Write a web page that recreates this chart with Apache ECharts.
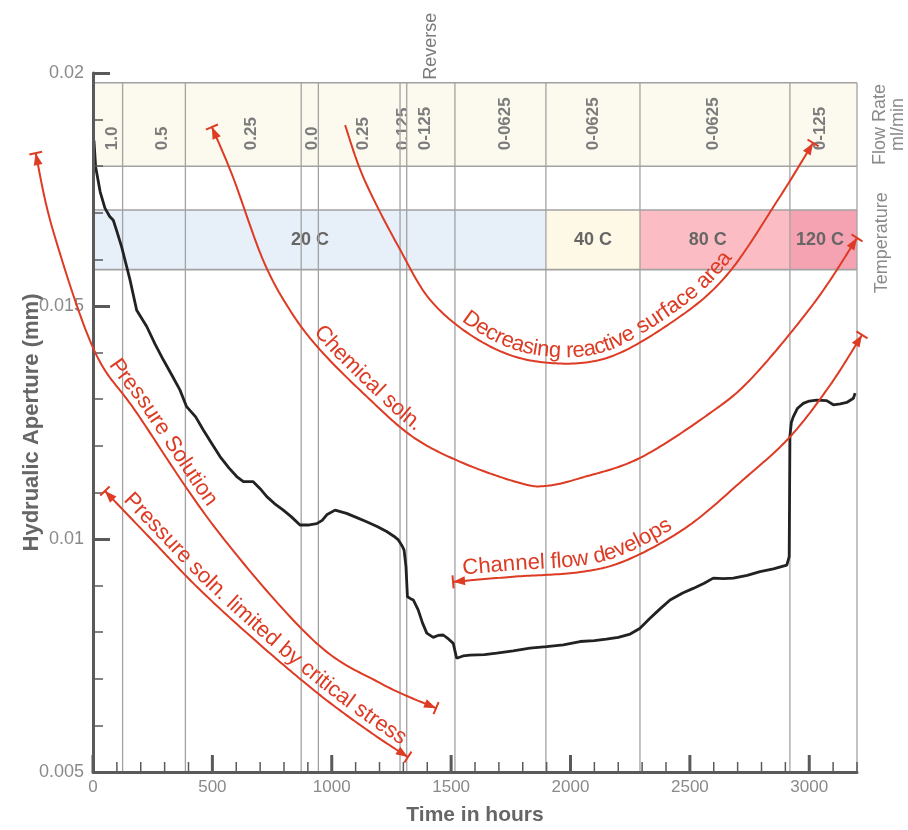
<!DOCTYPE html>
<html>
<head>
<meta charset="utf-8">
<title>Hydraulic aperture vs time</title>
<script src="https://cdn.jsdelivr.net/npm/echarts@6/dist/echarts.min.js"></script>
<style>
  html, body { margin: 0; padding: 0; background: #ffffff; }
  #chart { width: 908px; height: 830px; }
</style>
</head>
<body>
<div id="chart"></div>
<script>
// ---- measured hydraulic aperture record ----
const hours = [4, 11, 30, 50, 70, 85, 100, 120, 155, 183, 225, 260, 295, 330, 364, 392, 430, 462, 500, 532,
  570, 602, 630, 671, 700, 728, 760, 797, 830, 867, 900, 937, 960, 979, 1014, 1062, 1100, 1146, 1190, 1230,
  1260, 1279, 1295, 1303, 1311, 1317, 1330, 1342, 1362, 1380, 1398, 1425, 1445, 1467, 1490, 1509, 1516, 1523,
  1550, 1579, 1640, 1691, 1760, 1830, 1900, 1970, 2040, 2100, 2150, 2200, 2250, 2290, 2333, 2375, 2417, 2470,
  2514, 2560, 2598, 2640, 2682, 2740, 2794, 2850, 2906, 2916, 2919, 2925, 2933, 2950, 2975, 3000, 3031, 3073,
  3101, 3130, 3157, 3185, 3192];
const aperture = [0.01855, 0.01799, 0.01745, 0.01710, 0.01692, 0.01684, 0.01660, 0.01627, 0.01556, 0.01491,
  0.01456, 0.01418, 0.01384, 0.01352, 0.01320, 0.01284, 0.01262, 0.01234, 0.01203, 0.01177,
  0.01152, 0.01134, 0.01123, 0.01123, 0.01108, 0.01091, 0.01076, 0.01062, 0.01048, 0.01030,
  0.01030, 0.01033, 0.01040, 0.01052, 0.01062, 0.01055, 0.01047, 0.01037, 0.01027, 0.01016,
  0.01006, 0.00998, 0.00985, 0.00976, 0.00940, 0.00876, 0.00872, 0.00869, 0.00848, 0.00820,
  0.00798, 0.00789, 0.00793, 0.00794, 0.00785, 0.00776, 0.00760, 0.00744,
  0.00749, 0.00751, 0.00752, 0.00755, 0.00760, 0.00766, 0.00769, 0.00773, 0.00780, 0.00782,
  0.00785, 0.00789, 0.00796, 0.00808, 0.00830, 0.00850, 0.00869, 0.00884,
  0.00894, 0.00905, 0.00916, 0.00915, 0.00916, 0.00922, 0.00930, 0.00936, 0.00944, 0.00962,
  0.01220, 0.01250, 0.01262, 0.01280, 0.01291, 0.01296, 0.01298, 0.01297,
  0.01288, 0.01290, 0.01293, 0.01302, 0.01313];

// ---- flow-rate stages (hours) ----
const stageEdges = [0, 124, 387, 872, 944, 1286, 1314, 1516, 1897, 2291, 2919, 3200];
const flowRates = ['1.0', '0.5', '0.25', '0.0', '0.25', '0.125', '0-125', '0-0625', '0-0625', '0-0625', '0-125'];
const flowLabelHours = [80, 289, 665, 917, 1131, 1298, 1391, 1726, 2094, 2597, 3045];
const stageNotes = ['', '', '', '', '', '', 'Reverse', '', '', '', ''];

// ---- temperature stages (hours) ----
const tempEdges = [0, 1897, 2291, 2919, 3200];
const tempLabels = ['20 C', '40 C', '80 C', '120 C'];
const tempLabelHours = [909, 2094, 2575, 3045];

// ---- axis ticks ----
const xMajorTicks = [0, 500, 1000, 1500, 2000, 2500, 3000];
const xMinorTicks = [];
for (let h = 100; h <= 3200; h += 100) if (h % 500 !== 0) xMinorTicks.push(h);

// ---- interpretive arrows: [hours, aperture] ----
const pressureSolutionPath = [[-240, 0.01828], [-168, 0.01663], [4, 0.01406], [184, 0.0127], [519, 0.01019],
  [922, 0.00783], [1202, 0.00691], [1437, 0.00637]];
const criticalStressPath = [[50, 0.01103], [239, 0.01002], [448, 0.00891], [700, 0.00773], [951, 0.00665],
  [1160, 0.00586], [1319, 0.00532]];
const chemicalPath = [[498, 0.01884], [586, 0.01777], [712, 0.01599], [825, 0.01491], [951, 0.01406],
  [1148, 0.01305], [1340, 0.01219], [1550, 0.01163], [1789, 0.0112], [1900, 0.01114], [2050, 0.01132],
  [2291, 0.01174], [2584, 0.0127], [2764, 0.01348], [3024, 0.01509], [3200, 0.01646]];
const surfaceAreaPath = [[1056, 0.01888], [1135, 0.01773], [1282, 0.01625], [1424, 0.01506], [1642, 0.01419],
  [1872, 0.0138], [2149, 0.01388], [2438, 0.0147], [2656, 0.01567], [2869, 0.01728], [3016, 0.0185]];
const channelPath = [[1508, 0.00908], [1759, 0.00919], [2040, 0.00929], [2237, 0.00955], [2488, 0.01026],
  [2723, 0.01127], [2919, 0.01219], [3087, 0.0133], [3221, 0.01438]];

const annotations = [
  { label: 'Pressure Solution', path: pressureSolutionPath, textFrom: 40, arrows: [true, true] },
  { label: 'Pressure soln. limited by critical stress', path: criticalStressPath, textFrom: 100, arrows: [true, true] },
  { label: 'Chemical soln.', path: chemicalPath, textFrom: 900, arrows: [true, true] },
  { label: 'Decreasing reactive surface area', path: surfaceAreaPath, textFrom: 1520, arrows: [false, true] },
  { label: 'Channel flow develops', path: channelPath, textFrom: 1552, arrows: [true, true] }
];

// ---- layout constants (aperture units) ----
const Y_MIN = 0.005, Y_MAX = 0.02, X_MAX = 3200;
const FLOW_TOP = 0.01979, FLOW_BOTTOM = 0.018;
const TEMP_TOP = 0.01706, TEMP_BOTTOM = 0.01578;

const FONT = '"Liberation Sans", Arial, Helvetica, sans-serif';
const RED = '#dd3b24';
const AXIS = '#5a5a5a';
const GRIDLINE = '#a2a2a2';
const tempColors = ['#e7eff9', '#fdf9e6', '#fbbdc3', '#f5a2b3'];

const chart = echarts.init(document.getElementById('chart'), null, { renderer: 'canvas' });

function renderFlowStage(params, api) {
  const i = params.dataIndex;
  const a = api.coord([api.value(0), FLOW_TOP]);
  const b = api.coord([api.value(1), FLOW_BOTTOM]);
  const lp = api.coord([api.value(2), FLOW_BOTTOM]);
  const children = [
    { type: 'rect', shape: { x: a[0], y: a[1], width: b[0] - a[0], height: b[1] - a[1] },
      style: { fill: '#fcf9ef' } },
    { type: 'text', x: lp[0], y: lp[1] - 16, rotation: Math.PI / 2,
      style: { text: flowRates[i], align: 'left', verticalAlign: 'middle', fill: '#7c7c7c',
        fontSize: 17, fontWeight: 'bold', fontFamily: FONT } }
  ];
  if (stageNotes[i]) {
    children.push({ type: 'text', x: (a[0] + b[0]) / 2, y: a[1] - 3, rotation: Math.PI / 2,
      style: { text: stageNotes[i], align: 'left', verticalAlign: 'middle', fill: '#7a7a7a',
        fontSize: 18, fontFamily: FONT } });
  }
  return { type: 'group', children };
}

function renderTempStage(params, api) {
  const i = params.dataIndex;
  const a = api.coord([api.value(0), TEMP_TOP]);
  const b = api.coord([api.value(1), TEMP_BOTTOM]);
  const lp = api.coord([api.value(2), (TEMP_TOP + TEMP_BOTTOM) / 2]);
  return {
    type: 'group',
    children: [
      { type: 'rect', shape: { x: a[0], y: a[1], width: b[0] - a[0], height: b[1] - a[1] },
        style: { fill: tempColors[i] } },
      { type: 'text', x: lp[0], y: lp[1],
        style: { text: tempLabels[i], align: 'center', verticalAlign: 'middle', fill: '#666666',
          fontSize: 18, fontWeight: 'bold', fontFamily: FONT } }
    ]
  };
}

function renderStageLine(params, api) {
  const p0 = api.coord([api.value(0), Y_MIN]);
  const p1 = api.coord([api.value(0), FLOW_TOP]);
  return { type: 'line', shape: { x1: p0[0], y1: p0[1], x2: p1[0], y2: p1[1] },
    style: { stroke: GRIDLINE, lineWidth: 1.3 } };
}

function renderBandLine(params, api) {
  const p0 = api.coord([0, api.value(0)]);
  const p1 = api.coord([X_MAX, api.value(0)]);
  return { type: 'line', shape: { x1: p0[0], y1: p0[1], x2: p1[0], y2: p1[1] },
    style: { stroke: GRIDLINE, lineWidth: 1.6 } };
}

// x tick marks every 100 h: long ticks at labelled hours, short ticks between
function renderXTick(params, api) {
  const h = api.value(0);
  const major = h % 500 === 0;
  const p = api.coord([h, Y_MIN]);
  const len = major ? 17 : 10;
  return { type: 'line', shape: { x1: p[0], y1: p[1], x2: p[0], y2: p[1] - len },
    style: { stroke: AXIS, lineWidth: major ? 3 : 1.5 } };
}

const option = {
  animation: false,
  backgroundColor: '#ffffff',
  grid: { left: 93, right: 51, top: 73, bottom: 58, containLabel: false, outerBoundsMode: 'none' },
  xAxis: {
    type: 'value', min: 0, max: X_MAX, interval: 500, position: 'bottom', z: 8,
    name: 'Time in hours', nameLocation: 'middle', nameGap: 33, nameMoveOverlap: false,
    nameTextStyle: { fontSize: 21, fontWeight: 'bold', color: '#666666', fontFamily: FONT },
    axisLine: { show: true, lineStyle: { color: AXIS, width: 3 } },
    axisTick: { show: false },
    axisLabel: { customValues: xMajorTicks, formatter: v => String(v), color: '#8a8a8a',
      fontSize: 17, margin: 7, fontFamily: FONT },
    splitLine: { show: false }
  },
  yAxis: {
    type: 'value', min: Y_MIN, max: Y_MAX, interval: 0.005, z: 8,
    name: 'Hydrualic Aperture (mm)', nameLocation: 'middle', nameGap: 50, nameMoveOverlap: false,
    nameTextStyle: { fontSize: 22, fontWeight: 'bold', color: '#666666', fontFamily: FONT },
    axisLine: { show: true, lineStyle: { color: AXIS, width: 3 } },
    axisTick: { show: true, inside: true, length: 17, lineStyle: { color: AXIS, width: 3 } },
    minorTick: { show: true, splitNumber: 5, length: 10, lineStyle: { color: AXIS, width: 1.5 } },
    axisLabel: { formatter: v => String(+v.toFixed(3)), color: '#8a8a8a', fontSize: 18, margin: 9, fontFamily: FONT },
    splitLine: { show: false },
    minorSplitLine: { show: false }
  },
  series: [
    {
      type: 'custom', name: 'flow', z: 1,
      renderItem: renderFlowStage,
      data: flowRates.map((r, i) => [stageEdges[i], stageEdges[i + 1], flowLabelHours[i]]),
      silent: true
    },
    {
      type: 'custom', name: 'temperature', z: 1,
      renderItem: renderTempStage,
      data: tempLabels.map((t, i) => [tempEdges[i], tempEdges[i + 1], tempLabelHours[i]]),
      silent: true
    },
    {
      type: 'custom', name: 'stage lines', z: 2,
      renderItem: renderStageLine,
      data: stageEdges.slice(1).map(e => [e]),
      silent: true
    },
    {
      type: 'custom', name: 'band lines', z: 2,
      renderItem: renderBandLine,
      data: [[FLOW_TOP], [FLOW_BOTTOM], [TEMP_TOP], [TEMP_BOTTOM]],
      silent: true
    },
    {
      type: 'custom', name: 'x ticks', z: 9,
      renderItem: renderXTick,
      data: xMajorTicks.concat(xMinorTicks).map(h => [h]),
      silent: true
    },
    {
      type: 'line', name: 'Hydraulic aperture', z: 5,
      data: hours.map((h, i) => [h, aperture[i]]),
      showSymbol: false, symbol: 'none', smooth: false,
      lineStyle: { color: '#222222', width: 2.8 },
      silent: true
    }
  ]
};

chart.setOption(option);

// ---- interpretive arrows with text following the curve ----
const toPx = p => chart.convertToPixel({ xAxisIndex: 0, yAxisIndex: 0 }, p);

function catmullRom(pts, steps) {
  const out = [];
  for (let i = 0; i < pts.length - 1; i++) {
    const p0 = pts[i - 1] || pts[i], p1 = pts[i], p2 = pts[i + 1], p3 = pts[i + 2] || pts[i + 1];
    for (let k = 0; k < steps; k++) {
      const t = k / steps, t2 = t * t, t3 = t2 * t;
      out.push([0, 1].map(j => 0.5 * (2 * p1[j] + (-p0[j] + p2[j]) * t +
        (2 * p0[j] - 5 * p1[j] + 4 * p2[j] - p3[j]) * t2 +
        (-p0[j] + 3 * p1[j] - 3 * p2[j] + p3[j]) * t3)));
    }
  }
  out.push(pts[pts.length - 1].slice());
  return out;
}

const measureCtx = document.createElement('canvas').getContext('2d');
const ANN_SIZE = 22;
measureCtx.font = ANN_SIZE + 'px ' + FONT;

const graphics = [];

function arrowHead(tip, dir) {
  const L = 12, W = 9, B = 13;
  const n = [-dir[1], dir[0]];
  const base = [tip[0] - dir[0] * L, tip[1] - dir[1] * L];
  graphics.push({
    type: 'polygon', z: 100, silent: true,
    shape: { points: [tip, [base[0] + n[0] * W / 2, base[1] + n[1] * W / 2], [base[0] - n[0] * W / 2, base[1] - n[1] * W / 2]] },
    style: { fill: RED, stroke: null }
  });
  graphics.push({
    type: 'line', z: 100, silent: true,
    shape: { x1: tip[0] + n[0] * B / 2, y1: tip[1] + n[1] * B / 2, x2: tip[0] - n[0] * B / 2, y2: tip[1] - n[1] * B / 2 },
    style: { stroke: RED, lineWidth: 2 }
  });
}

annotations.forEach(an => {
  const px = an.path.map(toPx);
  const pts = catmullRom(px, 24);
  const cum = [0];
  for (let i = 1; i < pts.length; i++) {
    cum.push(cum[i - 1] + Math.hypot(pts[i][0] - pts[i - 1][0], pts[i][1] - pts[i - 1][1]));
  }
  const total = cum[cum.length - 1];
  const pointAt = s => {
    s = Math.max(0, Math.min(total, s));
    let i = 0;
    while (i < cum.length - 2 && cum[i + 1] < s) i++;
    const seg = cum[i + 1] - cum[i] || 1;
    const t = (s - cum[i]) / seg;
    return [pts[i][0] + (pts[i + 1][0] - pts[i][0]) * t, pts[i][1] + (pts[i + 1][1] - pts[i][1]) * t];
  };

  graphics.push({
    type: 'polyline', z: 99, silent: true,
    shape: { points: pts },
    style: { stroke: RED, lineWidth: 2, fill: null, lineJoin: 'round' }
  });

  if (an.arrows[0]) {
    const a = pointAt(0), b = pointAt(6);
    const d = Math.hypot(a[0] - b[0], a[1] - b[1]);
    arrowHead(a, [(a[0] - b[0]) / d, (a[1] - b[1]) / d]);
  }
  if (an.arrows[1]) {
    const a = pointAt(total), b = pointAt(total - 6);
    const d = Math.hypot(a[0] - b[0], a[1] - b[1]);
    arrowHead(a, [(a[0] - b[0]) / d, (a[1] - b[1]) / d]);
  }

  // text placed character by character along the curve
  const startX = toPx([an.textFrom, Y_MIN])[0];
  let k = 0;
  while (k < pts.length - 1 && pts[k][0] < startX) k++;
  let s = cum[k];
  for (const ch of an.label) {
    const w = measureCtx.measureText(ch).width;
    const mid = s + w / 2;
    const p = pointAt(mid);
    const q0 = pointAt(mid - 3), q1 = pointAt(mid + 3);
    const ang = Math.atan2(q1[1] - q0[1], q1[0] - q0[0]);
    const up = [Math.sin(ang), -Math.cos(ang)];
    const gap = 1.5;
    graphics.push({
      type: 'text', z: 101, silent: true,
      x: p[0] + up[0] * gap, y: p[1] + up[1] * gap, rotation: -ang,
      style: { text: ch, x: 0, y: 0, align: 'center', verticalAlign: 'bottom',
        fill: RED, fontSize: ANN_SIZE, fontFamily: FONT }
    });
    s += w;
  }
});

// ---- band captions at the right edge ----
const flowMid = toPx([X_MAX, (FLOW_TOP + FLOW_BOTTOM) / 2]);
const tempMid = toPx([X_MAX, (TEMP_TOP + TEMP_BOTTOM) / 2]);
graphics.push({
  type: 'text', z: 50, silent: true, x: flowMid[0] + 32, y: flowMid[1], rotation: Math.PI / 2,
  style: { text: 'Flow Rate\nml/min', align: 'center', verticalAlign: 'middle', fill: '#8a8a8a',
    fontSize: 18, lineHeight: 18, fontFamily: FONT }
});
graphics.push({
  type: 'text', z: 50, silent: true, x: tempMid[0] + 25, y: tempMid[1] + 3, rotation: Math.PI / 2,
  style: { text: 'Temperature', align: 'center', verticalAlign: 'middle', fill: '#8a8a8a',
    fontSize: 18, fontFamily: FONT }
});

chart.setOption({ graphic: { elements: graphics } });
</script>
</body>
</html>
